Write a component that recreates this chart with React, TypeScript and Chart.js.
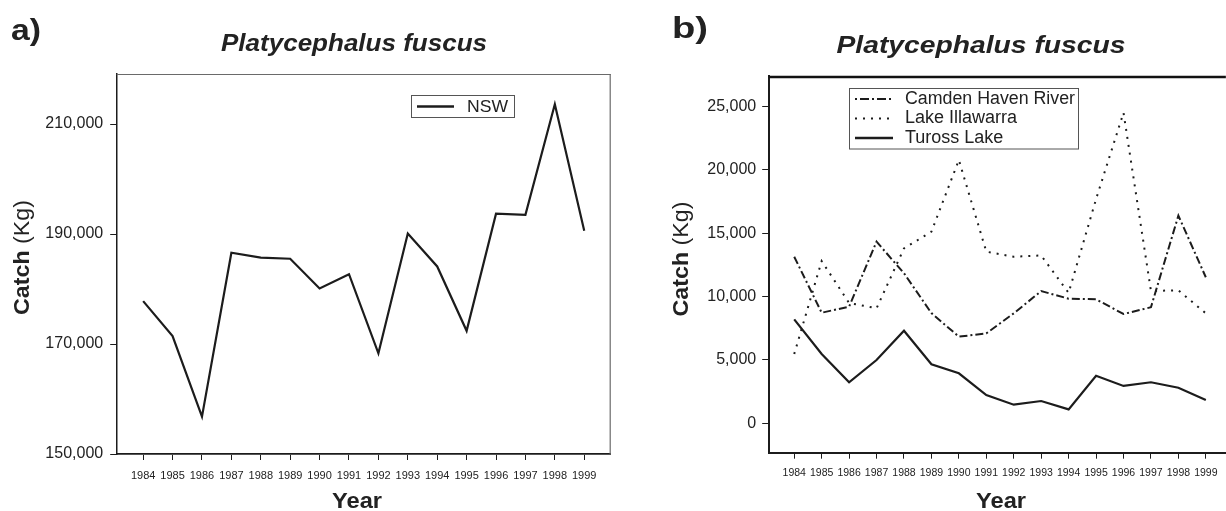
import React, { useEffect, useRef } from 'react';
import { Chart, registerables } from 'chart.js';

Chart.register(...registerables);

// ---------- data ----------
const years = [1984, 1985, 1986, 1987, 1988, 1989, 1990, 1991, 1992, 1993, 1994, 1995, 1996, 1997, 1998, 1999];
const nswCatch = [177800, 171450, 156800, 186600, 185700, 185500, 180100, 182700, 168300, 190100, 184100, 172400, 193700, 193500, 213600, 190600];
const camdenCatch = [13150, 8730, 9210, 14340, 11850, 8700, 6840, 7100, 8680, 10440, 9840, 9790, 8630, 9160, 16400, 11530];
const illawarraCatch = [5470, 12810, 9500, 9080, 13810, 15130, 20790, 13550, 13150, 13250, 10300, 17700, 24520, 10450, 10500, 8680];
const turossCatch = [8210, 5470, 3240, 5000, 7310, 4660, 3950, 2230, 1470, 1760, 1100, 3760, 2950, 3240, 2810, 1840];
const leftYTicks = [150000, 170000, 190000, 210000];
const rightYTicks = [0, 5000, 10000, 15000, 20000, 25000];

const FONT = '"Liberation Sans", Arial, Helvetica, sans-serif';
const INK = '#1c1c1c';
const TEXT = '#222222';

function drawText(ctx: CanvasRenderingContext2D, text: string, x: number, y: number, font: string,
  align: CanvasTextAlign, baseline: CanvasTextBaseline, width?: number) {
  ctx.save();
  ctx.font = font;
  ctx.fillStyle = TEXT;
  ctx.textBaseline = baseline;
  ctx.textAlign = 'left';
  const w = ctx.measureText(text).width;
  const s = width ? width / w : 1;
  const realW = w * s;
  let left = x;
  if (align === 'center') left = x - realW / 2;
  else if (align === 'right') left = x - realW;
  ctx.translate(left, y);
  ctx.scale(s, 1);
  ctx.fillText(text, 0, 0);
  ctx.restore();
}

function drawYTitle(ctx: CanvasRenderingContext2D, cx: number, cy: number, length: number) {
  ctx.save();
  const bold = `bold 22px ${FONT}`;
  const normal = `22px ${FONT}`;
  ctx.font = bold;
  const w1 = ctx.measureText('Catch').width;
  ctx.font = normal;
  const w2 = ctx.measureText(' (Kg)').width;
  const s = length / (w1 + w2);
  ctx.translate(cx, cy);
  ctx.rotate(-Math.PI / 2);
  ctx.scale(s, 1);
  ctx.fillStyle = TEXT;
  ctx.textBaseline = 'middle';
  ctx.textAlign = 'left';
  const start = -(w1 + w2) / 2;
  ctx.font = bold;
  ctx.fillText('Catch', start, 0);
  ctx.font = normal;
  ctx.fillText(' (Kg)', start + w1, 0);
  ctx.restore();
}

function line(ctx: CanvasRenderingContext2D, x1: number, y1: number, x2: number, y2: number, w: number, color: string, dash: number[] = []) {
  ctx.save();
  ctx.strokeStyle = color;
  ctx.lineWidth = w;
  ctx.setLineDash(dash);
  ctx.beginPath();
  ctx.moveTo(x1, y1);
  ctx.lineTo(x2, y2);
  ctx.stroke();
  ctx.restore();
}

const leftDecor = {
  id: 'leftDecor',
  afterDraw(chart: any) {
    const ctx: CanvasRenderingContext2D = chart.ctx;
    const a = chart.chartArea;
    line(ctx, a.left, a.top + 0.5, a.right, a.top + 0.5, 1.2, '#6a6a6a');
    line(ctx, a.right - 0.5, a.top, a.right - 0.5, a.bottom, 1.2, '#6a6a6a');
    drawText(ctx, 'a)', 11, 40, `bold 30px ${FONT}`, 'left', 'alphabetic', 30);
    drawText(ctx, 'Platycephalus fuscus', 354, 51, `italic bold 23px ${FONT}`, 'center', 'alphabetic', 266);
    drawYTitle(ctx, 22.5, 257.5, 115);
    drawText(ctx, 'Year', 357, 508, `bold 22px ${FONT}`, 'center', 'alphabetic', 50);
    ctx.save();
    ctx.strokeStyle = '#555';
    ctx.lineWidth = 1;
    ctx.strokeRect(411.5, 95.5, 103, 22);
    ctx.restore();
    line(ctx, 417, 106.5, 454, 106.5, 2.5, INK);
    drawText(ctx, 'NSW', 467, 107, `17px ${FONT}`, 'left', 'middle', 41);
  },
};

const OFF = 620;
const rightDecor = {
  id: 'rightDecor',
  afterDraw(chart: any) {
    const ctx: CanvasRenderingContext2D = chart.ctx;
    const a = chart.chartArea;
    line(ctx, a.left, a.top + 1, a.right, a.top + 1, 2.5, '#111');
    drawText(ctx, 'b)', 672 - OFF, 38, `bold 30px ${FONT}`, 'left', 'alphabetic', 36);
    drawText(ctx, 'Platycephalus fuscus', 981 - OFF, 53, `italic bold 24px ${FONT}`, 'center', 'alphabetic', 289);
    drawYTitle(ctx, 682 - OFF, 259, 115);
    drawText(ctx, 'Year', 1001 - OFF, 508, `bold 22px ${FONT}`, 'center', 'alphabetic', 50);
    ctx.save();
    ctx.strokeStyle = '#555';
    ctx.lineWidth = 1;
    ctx.strokeRect(849 - OFF + 0.5, 88.5, 229, 60.5);
    ctx.restore();
    const x1 = 855 - OFF, x2 = 893 - OFF, tx = 905 - OFF;
    line(ctx, x1, 99, x2, 99, 2, INK, [2, 3, 9, 3]);
    line(ctx, x1, 118.5, x2, 118.5, 2, INK, [2, 6]);
    line(ctx, x1, 138, x2, 138, 2.5, INK);
    const f = `18px ${FONT}`;
    drawText(ctx, 'Camden Haven River', tx, 99, f, 'left', 'middle', 170);
    drawText(ctx, 'Lake Illawarra', tx, 118.5, f, 'left', 'middle');
    drawText(ctx, 'Tuross Lake', tx, 138, f, 'left', 'middle');
  },
};

function points(vals: number[]) {
  return years.map((yr, i) => ({ x: yr, y: vals[i] }));
}

function axisX(min: number, max: number, height: number, size: number, borderW: number, pad: number) {
  return {
    type: 'linear' as const,
    min,
    max,
    afterBuildTicks: (s: any) => { s.ticks = years.map((v) => ({ value: v })); },
    afterFit: (s: any) => { s.height = height; },
    grid: { display: true, drawOnChartArea: false, drawTicks: true, tickLength: 6, color: INK, lineWidth: 1 },
    border: { display: true, color: INK, width: borderW },
    ticks: { font: { family: FONT, size }, color: TEXT, padding: pad, maxRotation: 0, autoSkip: false, callback: (v: any) => String(v) },
  };
}

function axisY(min: number, max: number, tickVals: number[], width: number, borderW: number, pad: number) {
  return {
    type: 'linear' as const,
    min,
    max,
    afterBuildTicks: (s: any) => { s.ticks = tickVals.map((v) => ({ value: v })); },
    afterFit: (s: any) => { s.width = width; },
    grid: { display: true, drawOnChartArea: false, drawTicks: true, tickLength: 6.5, color: INK, lineWidth: 1 },
    border: { display: true, color: INK, width: borderW },
    ticks: { font: { family: FONT, size: 16 }, color: TEXT, padding: pad, autoSkip: false, callback: (v: any) => Number(v).toLocaleString('en-US') },
  };
}

export default function App() {
  const leftRef = useRef<HTMLCanvasElement>(null);
  const rightRef = useRef<HTMLCanvasElement>(null);

  useEffect(() => {
    const left = new Chart(leftRef.current!, {
      type: 'line',
      data: {
        datasets: [
          { label: 'NSW', data: points(nswCatch), borderColor: INK, borderWidth: 2.2, pointRadius: 0, tension: 0, fill: false },
        ],
      },
      options: {
        animation: false,
        responsive: false,
        layout: { padding: { left: 0, right: 620 - 610.7, top: 74, bottom: 0 } },
        plugins: { legend: { display: false }, tooltip: { enabled: false } },
        scales: {
          x: axisX(1983.1, 1999.9, 57, 11, 1.8, 9),
          y: axisY(150000, 219100, leftYTicks, 116.7, 1.5, 7),
        } as any,
      },
      plugins: [leftDecor],
    });

    const right = new Chart(rightRef.current!, {
      type: 'line',
      data: {
        datasets: [
          { label: 'Camden Haven River', data: points(camdenCatch), borderColor: INK, borderWidth: 2, borderDash: [8, 3, 2, 3], pointRadius: 0, tension: 0, fill: false },
          { label: 'Lake Illawarra', data: points(illawarraCatch), borderColor: INK, borderWidth: 2, borderDash: [2, 6], pointRadius: 0, tension: 0, fill: false },
          { label: 'Tuross Lake', data: points(turossCatch), borderColor: INK, borderWidth: 2.2, pointRadius: 0, tension: 0, fill: false },
        ],
      },
      options: {
        animation: false,
        responsive: false,
        layout: { padding: { left: 0, right: 0, top: 76, bottom: 0 } },
        plugins: { legend: { display: false }, tooltip: { enabled: false } },
        scales: {
          x: axisX(1983.07, 1999.73, 511 - 452.7, 10.5, 2, 8.5),
          y: axisY(-2320, 27420, rightYTicks, 148.7, 2, 6),
        } as any,
      },
      plugins: [rightDecor],
    });

    return () => {
      left.destroy();
      right.destroy();
    };
  }, []);

  return (
    <div style={{ position: 'fixed', left: 0, top: 0, width: 1226, height: 511, background: '#fff', overflow: 'hidden' }}>
      <canvas ref={leftRef} width={620} height={511} style={{ position: 'absolute', left: 0, top: 0, width: 620, height: 511 }} />
      <canvas ref={rightRef} width={606} height={511} style={{ position: 'absolute', left: OFF, top: 0, width: 606, height: 511 }} />
    </div>
  );
}
